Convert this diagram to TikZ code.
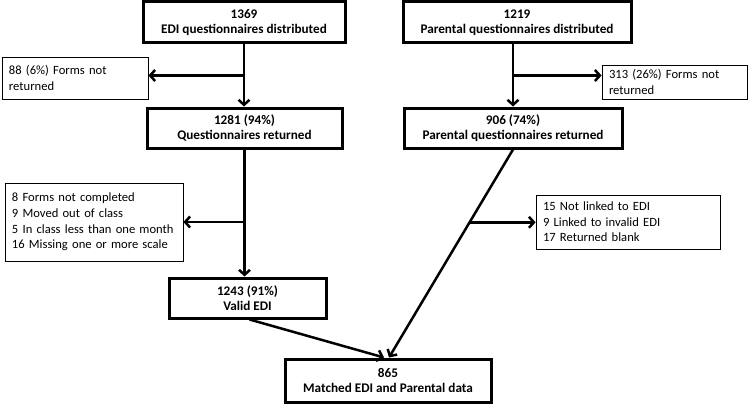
\documentclass[tikz,border=0pt]{standalone}
\usepackage{fontspec}
\setmainfont{Carlito}
\usetikzlibrary{arrows.meta,calc}
\begin{document}
\begin{tikzpicture}[x=1pt,y=-1pt,
  mainbox/.style={draw,line width=3pt,align=center,font=\fontsize{13.2}{15.5}\selectfont\bfseries,inner sep=2pt},
  sidebox/.style={draw,line width=0.8pt,align=left,font=\fontsize{12.6}{15.6}\selectfont,inner xsep=7pt,inner ysep=2pt},
  flow/.style={line width=2.5pt,-{Straight Barb[length=5pt,width=11pt,line width=2.5pt]}}]
\useasboundingbox (0,0) rectangle (749,404);
% main boxes
\node[mainbox,minimum width=202pt,minimum height=41pt] (A) at (244,22.5) {1369\\EDI questionnaires distributed};
\node[mainbox,minimum width=228pt,minimum height=41pt] (B) at (517,22.5) {1219\\Parental questionnaires distributed};
\node[mainbox,minimum width=195pt,minimum height=40pt] (C) at (244.5,128) {1281 (94\%)\\Questionnaires returned};
\node[mainbox,minimum width=218pt,minimum height=40pt] (D) at (513,128) {906 (74\%)\\Parental questionnaires returned};
\node[mainbox,minimum width=157pt,minimum height=40pt] (E) at (247.5,298) {1243 (91\%)\\Valid EDI};
\node[mainbox,minimum width=206pt,minimum height=43pt] (F) at (388,380.5) {865\\Matched EDI and Parental data};
% side boxes
\node[sidebox,minimum width=146pt,minimum height=42pt,text width=132pt] (L1) at (75,78) {88 (6\%) Forms not\\returned};
\node[sidebox,minimum width=145pt,minimum height=34pt,text width=131pt] (R1) at (674.5,82) {313 (26\%) Forms not\\returned};
\node[sidebox,minimum width=178pt,minimum height=78pt,text width=164pt] (L2) at (94,222) {8 Forms not completed\\9 Moved out of class\\5 In class less than one month\\16 Missing one or more scale};
\node[sidebox,minimum width=184pt,minimum height=54pt,text width=170pt] (R2) at (628,222) {15 Not linked to EDI\\9 Linked to invalid EDI\\17 Returned blank};
% connectors
\draw[flow] (A.south) -- (A.south |- C.north);
\coordinate (b1) at ($(A.south)!0.5!(A.south |- C.north)$);
\draw[flow] (b1) -- (b1 -| L1.east);
\coordinate (b2top) at (B.south -| D.north);
\draw[flow] (b2top) -- (D.north);
\coordinate (b2) at ($(b2top)!0.5!(D.north)$);
\draw[flow] (b2) -- (b2 -| R1.west);
\draw[flow] (C.south) -- (C.south |- E.north);
\coordinate (b3) at (C.south |- L2.east);
\draw[flow] (b3) -- (L2.east);
\coordinate (fD) at ([xshift=1pt]F.north);
\coordinate (fE) at ([xshift=-4pt]F.north);
\draw[flow] (D.south) -- (fD);
\coordinate (b4) at ($(D.south)!0.35!(fD)$);
\draw[flow] (b4) -- (b4 -| R2.west);
\draw[flow] ([xshift=2pt]E.south) -- (fE);
\end{tikzpicture}
\end{document}
